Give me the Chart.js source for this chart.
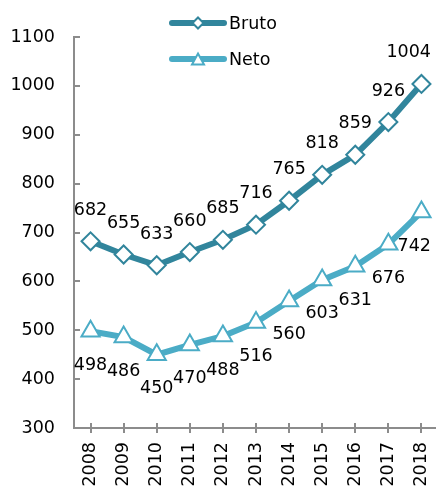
<!DOCTYPE html>
<html>
<head>
<meta charset="utf-8">
<script src="https://cdn.jsdelivr.net/npm/chart.js@4.4.1/dist/chart.umd.min.js"></script>
<style>
  html, body { margin: 0; padding: 0; background: #fff; overflow: hidden; }
  canvas { display: block; }
</style>
</head>
<body>
<canvas id="grafico" width="440" height="486"></canvas>
<script>
// Dados
const anos = ['2008','2009','2010','2011','2012','2013','2014','2015','2016','2017','2018'];
const bruto = [682, 655, 633, 660, 685, 716, 765, 818, 859, 926, 1004];
const neto = [498, 486, 450, 470, 488, 516, 560, 603, 631, 676, 742];
const yTicks = [300, 400, 500, 600, 700, 800, 900, 1000, 1100];

const corBruto = '#31859c';
const corNeto = '#4bacc6';
const corEixo = '#8c8c8c';
const fonte = 'DejaVu Sans, Verdana, sans-serif';
const tamFonte = 17.5;

// desenha marcador (losango ou triangulo)
function marcador(ctx, tipo, x, y, r, cor) {
  ctx.save();
  ctx.beginPath();
  if (tipo === 'diamond') {
    ctx.moveTo(x, y - r); ctx.lineTo(x + r, y); ctx.lineTo(x, y + r); ctx.lineTo(x - r, y);
  } else {
    const h = r * 1.7;
    const w = r * 1.85;
    ctx.moveTo(x, y - h / 2); ctx.lineTo(x + w / 2, y + h / 2); ctx.lineTo(x - w / 2, y + h / 2);
  }
  ctx.closePath();
  ctx.fillStyle = '#fff';
  ctx.fill();
  ctx.lineWidth = 2;
  ctx.strokeStyle = cor;
  ctx.stroke();
  ctx.restore();
}

// Plugin: ticks dos eixos, rotulos de dados e legenda
const extras = {
  id: 'extras',
  beforeDatasetsDraw(chart) {
    const ctx = chart.ctx;
    const area = chart.chartArea;
    const sx = chart.scales.x;
    const sy = chart.scales.y;
    ctx.save();
    ctx.strokeStyle = corEixo;
    ctx.lineWidth = 2;
    yTicks.forEach((v) => {
      const y = Math.round(sy.getPixelForValue(v));
      ctx.beginPath(); ctx.moveTo(area.left, y); ctx.lineTo(area.left + 6, y); ctx.stroke();
    });
    anos.forEach((a, i) => {
      const x = Math.round(sx.getPixelForValue(i));
      ctx.beginPath(); ctx.moveTo(x, area.bottom - 5); ctx.lineTo(x, area.bottom + 5); ctx.stroke();
    });
    ctx.restore();
  },
  afterDatasetsDraw(chart) {
    const ctx = chart.ctx;
    ctx.save();
    ctx.font = tamFonte + 'px ' + fonte;
    ctx.fillStyle = '#000';
    ctx.textAlign = 'center';
    ctx.textBaseline = 'middle';
    chart.data.datasets.forEach((ds, di) => {
      const meta = chart.getDatasetMeta(di);
      meta.data.forEach((pt, i) => {
        const txt = String(ds.data[i]);
        const w = ctx.measureText(txt).width;
        let x = pt.x;
        if (x + w / 2 > 431) x = 431 - w / 2;
        const y = di === 0 ? pt.y - 31 : pt.y + 34;
        ctx.fillText(txt, x, y);
      });
    });

    // legenda
    chart.data.datasets.forEach((ds, di) => {
      const y = di === 0 ? 23 : 59;
      ctx.strokeStyle = ds.borderColor;
      ctx.lineWidth = 6;
      ctx.lineCap = 'round';
      ctx.beginPath(); ctx.moveTo(172, y); ctx.lineTo(224, y); ctx.stroke();
      marcador(ctx, di === 0 ? 'diamond' : 'triangle', 198, y, di === 0 ? 5.5 : 6.5, ds.borderColor);
      ctx.fillStyle = '#000';
      ctx.textAlign = 'left';
      ctx.fillText(ds.label, 229, y + 1);
    });
    ctx.restore();
  }
};

const ctxGrafico = document.getElementById('grafico').getContext('2d');
const grafico = new Chart(ctxGrafico, {
  type: 'line',
  data: {
    labels: anos,
    datasets: [
      {
        label: 'Bruto',
        data: bruto,
        borderColor: corBruto,
        backgroundColor: '#fff',
        borderWidth: 6,
        pointStyle: 'rectRot',
        pointRadius: 9,
        pointBorderWidth: 2,
        pointBackgroundColor: '#fff',
        pointBorderColor: corBruto,
        tension: 0
      },
      {
        label: 'Neto',
        data: neto,
        borderColor: corNeto,
        backgroundColor: '#fff',
        borderWidth: 6,
        pointStyle: 'triangle',
        pointRadius: 10.5,
        pointBorderWidth: 2,
        pointBackgroundColor: '#fff',
        pointBorderColor: corNeto,
        tension: 0
      }
    ]
  },
  options: {
    responsive: false,
    animation: false,
    layout: { autoPadding: false, padding: { top: 37, right: 2, left: 0, bottom: 0 } },
    plugins: { legend: { display: false }, tooltip: { enabled: false } },
    scales: {
      x: {
        offset: true,
        grid: { display: false, drawTicks: false },
        border: { display: true, color: corEixo, width: 2 },
        ticks: {
          color: '#000',
          font: { family: fonte, size: tamFonte },
          minRotation: 90,
          maxRotation: 90,
          padding: 14,
          autoSkip: false
        },
        afterFit: (s) => {
          s.height = 58;
          s.paddingLeft = 0;
          s.paddingRight = 0;
        }
      },
      y: {
        min: 300,
        max: 1100,
        grid: { display: false, drawTicks: false },
        border: { display: true, color: corEixo, width: 2 },
        ticks: {
          stepSize: 100,
          color: '#000',
          font: { family: fonte, size: tamFonte },
          padding: 19,
          callback: (v) => String(v)
        },
        afterFit: (s) => { s.width = 74; }
      }
    }
  },
  plugins: [extras]
});
</script>
</body>
</html>
